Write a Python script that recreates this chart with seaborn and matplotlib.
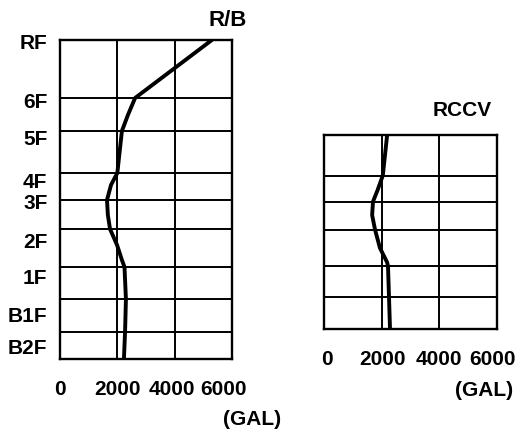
import matplotlib
matplotlib.use("Agg")
import matplotlib.pyplot as plt
import seaborn as sns
from matplotlib.transforms import ScaledTranslation

# floor slab levels (relative height, base mat = 0)
FLOORS = ["B2F", "B1F", "1F", "2F", "3F", "4F", "5F", "6F", "RF"]
FLOOR_LEVEL = [27, 60, 92, 130, 159, 186, 228, 261, 319]
BASE_LEVEL = 0

# R/B max. response acceleration (GAL) along height
RB_LEVEL = [319, 261, 244, 228, 186, 174, 159, 144, 130, 114, 99, 92, 60, 27, 0]
RB_ACC = [5300, 2620, 2370, 2160, 2000, 1780, 1640, 1670, 1745, 1990, 2160, 2250, 2300, 2270, 2230]

# RCCV max. response acceleration (GAL), B2F .. 5F
RCCV_LEVEL = [228, 186, 171, 159, 145, 130, 111, 96, 92, 60, 27]
RCCV_ACC = [2190, 2040, 1860, 1700, 1670, 1770, 1940, 2190, 2220, 2255, 2290]

XTICKS = [0, 2000, 4000, 6000]
XTICK_LABELS = ["0", "2000", "4000", "6000"]

sns.set_style("white")
plt.rcParams["font.family"] = ["Liberation Sans", "DejaVu Sans"]
plt.rcParams["font.weight"] = "bold"
plt.rcParams["text.color"] = "black"
FS = 15

fig = plt.figure(figsize=(5.28, 4.29), dpi=100)
ax1 = fig.add_axes([0.1136, 0.1632, 0.3258, 0.7436])
ax2 = fig.add_axes([0.6136, 0.2331, 0.3277, 0.4522])


def shift(labels, offsets, dy=False):
    # nudge tick labels by a few pixels, like the hand-typed original
    for lab, d in zip(labels, offsets):
        tr = ScaledTranslation(0, d / 100, fig.dpi_scale_trans) if dy else \
            ScaledTranslation(d / 100, 0, fig.dpi_scale_trans)
        lab.set_transform(lab.get_transform() + tr)


def panel(ax, level, acc, ylim, xoffs):
    ax.grid(True, color="black", lw=1.4)
    ax.set_axisbelow(True)
    sns.lineplot(x=acc, y=level, sort=False, estimator=None,
                 color="black", lw=2.8, ax=ax)
    ax.set_xlim(0, 6000)
    ax.set_ylim(*ylim)
    ax.set_xticks(XTICKS)
    ax.set_xticklabels(XTICK_LABELS, fontsize=FS, fontweight="bold")
    ax.tick_params(axis="both", length=0, labelcolor="black")
    ax.tick_params(axis="x", pad=15)
    for s in ax.spines.values():
        s.set_visible(True)
        s.set_color("black")
        s.set_linewidth(1.7)
    shift(ax.get_xticklabels(), xoffs)


panel(ax1, RB_LEVEL, RB_ACC, (BASE_LEVEL, FLOOR_LEVEL[-1]), [0, 0, -3, -9])
ax1.set_yticks(FLOOR_LEVEL)
ax1.set_yticklabels(FLOORS, fontsize=FS, fontweight="bold")
ax1.tick_params(axis="y", pad=9)
shift(ax1.get_yticklabels(), [-15, -16, -10, -12, -2, -8, -7, -3, -2], dy=True)
ax1.text(0.977, 1.06, "R/B", transform=ax1.transAxes, ha="center", va="center",
         fontsize=FS + 1, fontweight="bold")

panel(ax2, RCCV_LEVEL, RCCV_ACC, (FLOOR_LEVEL[0], FLOOR_LEVEL[6]), [3, 1, 0, -5])
ax2.set_yticks(FLOOR_LEVEL[1:6])
ax2.set_yticklabels([])
ax2.text(0.80, 1.124, "RCCV", transform=ax2.transAxes, ha="center", va="center",
         fontsize=FS, fontweight="bold")

for a in (ax1, ax2):
    a.set_xlabel("")
    a.set_ylabel("")

fig.text(0.477, 0.021, "(GAL)", ha="center", va="center", fontsize=FS, fontweight="bold")
fig.text(0.917, 0.0886, "(GAL)", ha="center", va="center", fontsize=FS, fontweight="bold")

fig.savefig("out.png", dpi=100, facecolor="white")
